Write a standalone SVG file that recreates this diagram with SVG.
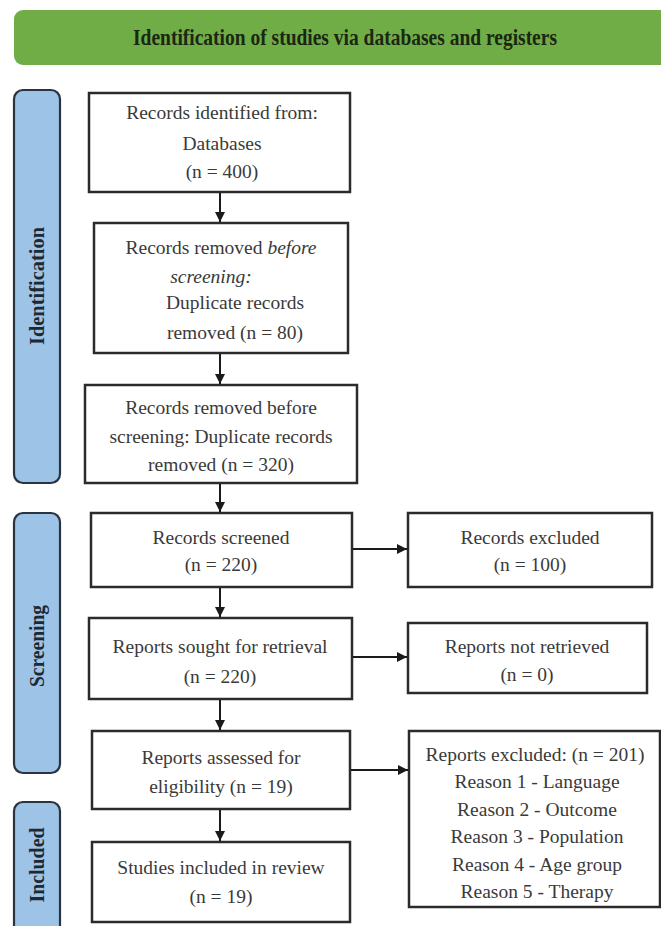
<svg xmlns="http://www.w3.org/2000/svg" width="661" height="926" viewBox="0 0 661 926">
<defs>
<marker id="ah" viewBox="0 0 10 10" refX="10" refY="5" markerWidth="10" markerHeight="10" markerUnits="userSpaceOnUse" orient="auto">
<path d="M0,0 L10,5 L0,10 z" fill="#1a1a1a"/>
</marker>
<style>
.box{fill:#ffffff;stroke:#2b2b2b;stroke-width:2.5}
.lab{fill:#9dc3e6;stroke:#2a3440;stroke-width:2.2}
.t{font-family:"Liberation Serif",serif;font-size:19.5px;fill:#3a3a3a;text-anchor:middle}
.lt{font-family:"Liberation Serif",serif;font-size:20px;font-weight:bold;fill:#1e2833;text-anchor:middle}
.conn{stroke:#1a1a1a;stroke-width:2;fill:none;marker-end:url(#ah)}
</style>
</defs>
<rect width="661" height="926" fill="#ffffff"/>

<g id="banner">
<rect x="14" y="10" width="670" height="55" rx="9" fill="#70ad47"/>
<text x="345" y="45" font-family="Liberation Serif,serif" font-size="24" font-weight="bold" fill="#1b2712" text-anchor="middle" textLength="424" lengthAdjust="spacingAndGlyphs">Identification of studies via databases and registers</text>
</g>

<g id="label-identification">
<rect class="lab" x="14" y="90" width="46" height="393" rx="9"/>
<text class="lt" transform="translate(44,286) rotate(-90)" textLength="118" lengthAdjust="spacingAndGlyphs">Identification</text>
</g>
<g id="label-screening">
<rect class="lab" x="14" y="513" width="46" height="260" rx="9"/>
<text class="lt" transform="translate(44,646) rotate(-90)" textLength="82" lengthAdjust="spacingAndGlyphs">Screening</text>
</g>
<g id="label-included">
<rect class="lab" x="14" y="802" width="46" height="140" rx="9"/>
<text class="lt" transform="translate(44,865) rotate(-90)" textLength="75" lengthAdjust="spacingAndGlyphs">Included</text>
</g>

<g id="records-identified">
<rect class="box" x="89" y="93" width="261" height="99"/>
<text class="t" x="222" y="119">Records identified from:</text>
<text class="t" x="222" y="150">Databases</text>
<text class="t" x="222" y="178">(n = 400)</text>
</g>

<g id="records-removed-1">
<rect class="box" x="94" y="223" width="254" height="130"/>
<text class="t" x="221" y="254">Records removed <tspan font-style="italic">before</tspan></text>
<text class="t" x="211" y="283" font-style="italic">screening:</text>
<text class="t" x="235" y="309">Duplicate records</text>
<text class="t" x="235" y="339">removed (n = 80)</text>
</g>

<g id="records-removed-2">
<rect class="box" x="85" y="385" width="272" height="98"/>
<text class="t" x="221" y="414">Records removed before</text>
<text class="t" x="221" y="443">screening: Duplicate records</text>
<text class="t" x="221" y="471">removed (n = 320)</text>
</g>

<g id="records-screened">
<rect class="box" x="91" y="513" width="261" height="74"/>
<text class="t" x="221" y="544">Records screened</text>
<text class="t" x="221" y="571">(n = 220)</text>
</g>

<g id="records-excluded">
<rect class="box" x="408" y="513" width="244" height="74"/>
<text class="t" x="530" y="544">Records excluded</text>
<text class="t" x="530" y="571">(n = 100)</text>
</g>

<g id="reports-sought">
<rect class="box" x="89" y="618" width="263" height="81"/>
<text class="t" x="220" y="653">Reports sought for retrieval</text>
<text class="t" x="220" y="683">(n = 220)</text>
</g>

<g id="reports-not-retrieved">
<rect class="box" x="408" y="623" width="239" height="70"/>
<text class="t" x="527" y="653">Reports not retrieved</text>
<text class="t" x="527" y="681">(n = 0)</text>
</g>

<g id="reports-assessed">
<rect class="box" x="92" y="731" width="258" height="78"/>
<text class="t" x="221" y="764">Reports assessed for</text>
<text class="t" x="221" y="793">eligibility (n = 19)</text>
</g>

<g id="reports-excluded">
<rect class="box" x="409" y="731" width="251" height="176"/>
<text class="t" x="535" y="761">Reports excluded: (n = 201)</text>
<text class="t" x="537" y="788">Reason 1 - Language</text>
<text class="t" x="537" y="816">Reason 2 - Outcome</text>
<text class="t" x="537" y="843">Reason 3 - Population</text>
<text class="t" x="537" y="871">Reason 4 - Age group</text>
<text class="t" x="537" y="898">Reason 5 - Therapy</text>
</g>

<g id="studies-included">
<rect class="box" x="92" y="842" width="258" height="80"/>
<text class="t" x="221" y="874">Studies included in review</text>
<text class="t" x="221" y="903">(n = 19)</text>
</g>

<g id="connectors">
<line class="conn" x1="220" y1="193" x2="220" y2="222"/>
<line class="conn" x1="220" y1="354" x2="220" y2="384"/>
<line class="conn" x1="220" y1="484" x2="220" y2="512"/>
<line class="conn" x1="220" y1="588" x2="220" y2="617"/>
<line class="conn" x1="220" y1="700" x2="220" y2="730"/>
<line class="conn" x1="220" y1="810" x2="220" y2="841"/>
<line class="conn" x1="353" y1="549" x2="407" y2="549"/>
<line class="conn" x1="353" y1="657" x2="407" y2="657"/>
<line class="conn" x1="351" y1="770" x2="408" y2="770"/>
</g>
</svg>
